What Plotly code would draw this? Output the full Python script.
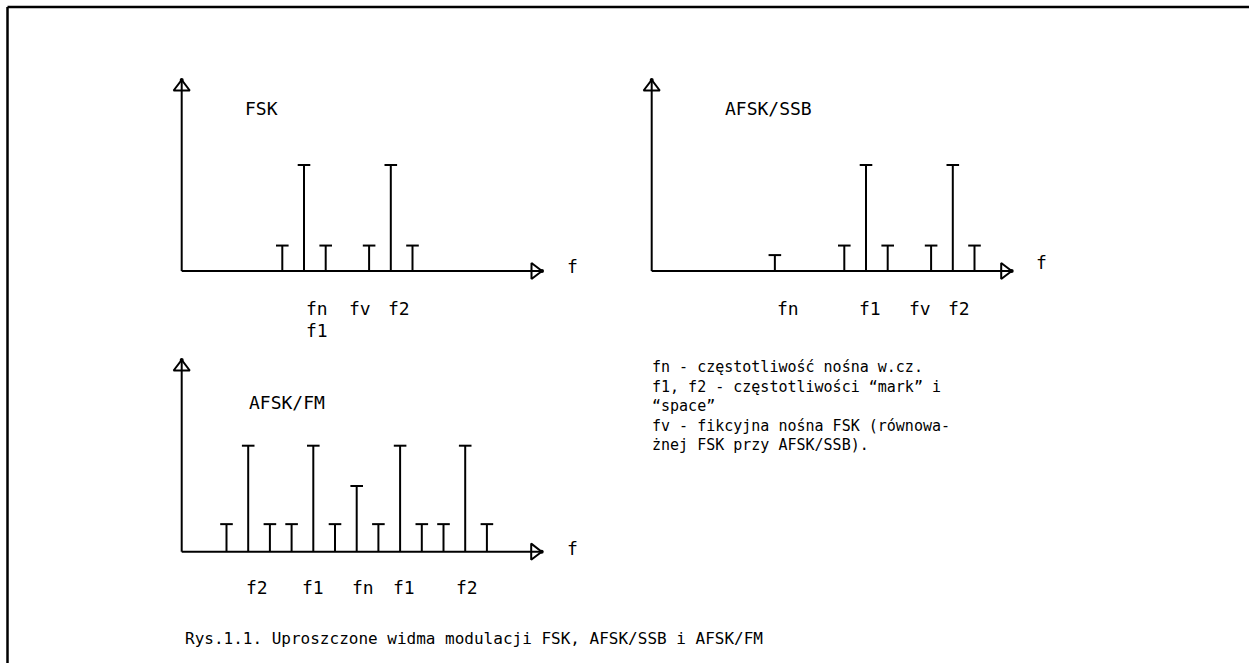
import plotly.graph_objects as go

# ---------------- data ----------------
fsk_freq = [-1, 0, 1, 3, 4, 5]
fsk_amp = [0.24, 1.0, 0.24, 0.24, 1.0, 0.24]
fsk_labels = ["fn", "f1", "fv", "f2"]
fsk_label_x = [0, 0, 2, 3.8]
fsk_label_row = [0, 1, 0, 0]

ssb_freq = [-4.2, -1, 0, 1, 3, 4, 5]
ssb_amp = [0.15, 0.24, 1.0, 0.24, 0.24, 1.0, 0.24]
ssb_labels = ["fn", "f1", "fv", "f2"]
ssb_label_x = [-4.2, -0.4, 1.9, 3.7]
ssb_label_row = [0, 0, 0, 0]

fm_freq = [-6, -5, -4, -3, -2, -1, 0, 1, 2, 3, 4, 5, 6]
fm_amp = [0.26, 1.0, 0.26, 0.26, 1.0, 0.26, 0.62, 0.26, 1.0, 0.26, 0.26, 1.0, 0.26]
fm_labels = ["f2", "f1", "fn", "f1", "f2"]
fm_label_x = [-5.2, -2.6, -0.3, 1.6, 4.5]
fm_label_row = [0, 0, 0, 0, 0]

titles = ["FSK", "AFSK/SSB", "AFSK/FM"]
axis_label = "f"

legend_lines = [
    "fn - częstotliwość nośna w.cz.",
    "f1, f2 - częstotliwości “mark” i",
    "“space”",
    "fv - fikcyjna nośna FSK (równowa-",
    "żnej FSK przy AFSK/SSB).",
]
caption = "Rys.1.1. Uproszczone widma modulacji FSK, AFSK/SSB i AFSK/FM"

# ---------------- layout geometry (pixels) ----------------
W, H = 1249, 663
S = 21.7     # px per frequency step
SY = 106.0   # px per amplitude unit
FONT = "DejaVu Sans Mono"
INK = "black"


def pxx(p):
    return p / W


def pxy(p):
    return 1 - p / H


panels = [
    dict(freq=fsk_freq, amp=fsk_amp, labels=fsk_labels, lx=fsk_label_x, lrow=fsk_label_row,
         ref=304.0, base=271.0, L=165, R=600, T=60, B=350, axis0=181.7, tipx=542.0, tipy=80.0,
         title=(243, 109), flab=(572, 266.5), lab_y=308, row_dy=22),
    dict(freq=ssb_freq, amp=ssb_amp, labels=ssb_labels, lx=ssb_label_x, lrow=ssb_label_row,
         ref=866.0, base=271.0, L=635, R=1100, T=60, B=350, axis0=651.7, tipx=1011.7, tipy=80.0,
         title=(722.7, 109), flab=(1041.7, 263), lab_y=308, row_dy=22),
    dict(freq=fm_freq, amp=fm_amp, labels=fm_labels, lx=fm_label_x, lrow=fm_label_row,
         ref=356.7, base=551.7, L=165, R=600, T=350, B=610, axis0=181.7, tipx=541.7, tipy=360.0,
         title=(246.7, 402.7), flab=(572, 548.3), lab_y=587.3, row_dy=22),
]

fig = go.Figure()
annotations = []

for i, p in enumerate(panels):
    n = "" if i == 0 else str(i + 1)
    xa, ya = "x" + n, "y" + n
    xr = [(p["L"] - p["ref"]) / S, (p["R"] - p["ref"]) / S]
    yr = [(p["base"] - p["B"]) / SY, (p["base"] - p["T"]) / SY]
    fig.layout["xaxis" + n] = dict(domain=[pxx(p["L"]), pxx(p["R"])], range=xr, visible=False,
                                   anchor=ya, fixedrange=True)
    fig.layout["yaxis" + n] = dict(domain=[pxy(p["B"]), pxy(p["T"])], range=yr, visible=False,
                                   anchor=xa, fixedrange=True)

    x0 = (p["axis0"] - p["ref"]) / S
    xtip = (p["tipx"] - p["ref"]) / S
    ytip = (p["base"] - p["tipy"]) / SY

    # axes lines
    fig.add_trace(go.Scatter(x=[x0, x0, None, x0, xtip], y=[ytip, 0, None, 0, 0],
                             mode="lines", line=dict(color=INK, width=2),
                             xaxis=xa, yaxis=ya, hoverinfo="skip", showlegend=False))
    # arrow heads
    r = 7.0
    fig.add_trace(go.Scatter(x=[x0], y=[ytip - r / SY], mode="markers",
                             marker=dict(symbol="triangle-up-open", size=14, color=INK,
                                         line=dict(color=INK, width=2)),
                             xaxis=xa, yaxis=ya, hoverinfo="skip", showlegend=False))
    fig.add_trace(go.Scatter(x=[xtip - r / S], y=[0], mode="markers",
                             marker=dict(symbol="triangle-right-open", size=14, color=INK,
                                         line=dict(color=INK, width=2)),
                             xaxis=xa, yaxis=ya, hoverinfo="skip", showlegend=False))
    fig.add_trace(go.Scatter(x=[x0, xtip], y=[ytip, 0], mode="markers",
                             marker=dict(symbol="circle", size=4, color=INK),
                             xaxis=xa, yaxis=ya, hoverinfo="skip", showlegend=False))

    # stems
    sx, sy = [], []
    for f, a in zip(p["freq"], p["amp"]):
        sx += [f, f, None]
        sy += [0, a, None]
    fig.add_trace(go.Scatter(x=sx, y=sy, mode="lines", line=dict(color=INK, width=2),
                             xaxis=xa, yaxis=ya, hoverinfo="skip", showlegend=False))
    fig.add_trace(go.Scatter(x=p["freq"], y=p["amp"], mode="markers",
                             marker=dict(symbol="line-ew", size=9, color=INK,
                                         line=dict(color=INK, width=2)),
                             xaxis=xa, yaxis=ya, hoverinfo="skip", showlegend=False))

    # frequency labels
    for lab, lx, row in zip(p["labels"], p["lx"], p["lrow"]):
        annotations.append(dict(text=lab, x=lx, xref=xa, y=pxy(p["lab_y"] + row * p["row_dy"]),
                                yref="paper", xanchor="left", yanchor="middle", showarrow=False,
                                font=dict(family=FONT, size=18, color=INK)))
    # title
    annotations.append(dict(text=titles[i], x=pxx(p["title"][0]), y=pxy(p["title"][1]),
                            xref="paper", yref="paper", xanchor="left", yanchor="middle",
                            showarrow=False, font=dict(family=FONT, size=18, color=INK)))
    # axis "f"
    annotations.append(dict(text=axis_label, x=pxx(p["flab"][0]), y=pxy(p["flab"][1]),
                            xref="paper", yref="paper", xanchor="center", yanchor="middle",
                            showarrow=False, font=dict(family=FONT, size=18, color=INK)))

# legend text block (one multi-line text)
annotations.append(dict(text="<br>".join(legend_lines), x=pxx(650), y=pxy(406),
                        xref="paper", yref="paper", xanchor="left", yanchor="middle",
                        align="left", showarrow=False,
                        font=dict(family=FONT, size=15, color=INK)))

# caption
annotations.append(dict(text=caption, x=pxx(183), y=pxy(638), xref="paper", yref="paper",
                        xanchor="left", yanchor="middle", showarrow=False,
                        font=dict(family=FONT, size=16, color=INK)))

fig.update_layout(
    width=W, height=H,
    margin=dict(l=0, r=0, t=0, b=0),
    paper_bgcolor="white", plot_bgcolor="white",
    showlegend=False,
    annotations=annotations,
    shapes=[
        dict(type="line", xref="paper", yref="paper", x0=pxx(7.5), x1=1.0,
             y0=pxy(7), y1=pxy(7), line=dict(color=INK, width=2.5)),
        dict(type="line", xref="paper", yref="paper", x0=pxx(7.5), x1=pxx(7.5),
             y0=pxy(7), y1=0.0, line=dict(color=INK, width=2.5)),
    ],
)

fig.write_html("out.html", config=dict(displayModeBar=False),
               post_script="document.body.style.margin='0';document.body.style.overflow='hidden';")
